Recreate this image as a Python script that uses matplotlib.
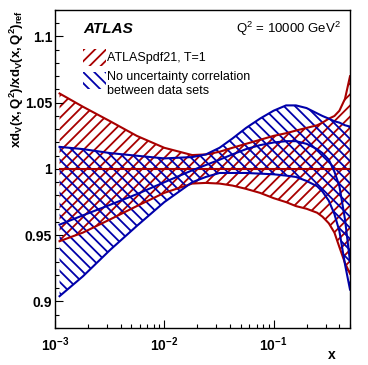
import matplotlib
matplotlib.use('Agg')
import matplotlib.pyplot as plt
from matplotlib.patches import Rectangle
from matplotlib.ticker import FixedLocator, LogLocator, NullFormatter

plt.rcParams['font.family'] = ['Liberation Sans', 'DejaVu Sans']
plt.rcParams['mathtext.fontset'] = 'custom'
plt.rcParams['mathtext.rm'] = 'Liberation Sans'
plt.rcParams['mathtext.bf'] = 'Liberation Sans:bold'
plt.rcParams['mathtext.it'] = 'Liberation Sans:italic'
plt.rcParams['hatch.linewidth'] = 1.3

# x grid and band edges
x = [0.0011, 0.0018, 0.0032, 0.0056, 0.01, 0.018, 0.024, 0.032, 0.042, 0.056, 0.075,
     0.1, 0.13, 0.16, 0.2, 0.25, 0.28, 0.32, 0.36, 0.4, 0.45, 0.5]

# ATLASpdf21, T=1 (reference, ratio = 1)
red_mid = [1.0] * 22
red_hi = [1.057, 1.047, 1.036, 1.025, 1.016, 1.0105, 1.011, 1.013, 1.016, 1.019, 1.022,
          1.025, 1.027, 1.029, 1.031, 1.033, 1.035, 1.038, 1.040, 1.044, 1.053, 1.070]
red_lo = [0.9455, 0.952, 0.962, 0.972, 0.982, 0.989, 0.9895, 0.989, 0.9875, 0.985, 0.982,
          0.978, 0.975, 0.972, 0.970, 0.967, 0.964, 0.959, 0.952, 0.941, 0.929, 0.921]

# no uncertainty correlation between data sets
blue_hi = [1.0167, 1.015, 1.012, 1.010, 1.008, 1.009, 1.011, 1.016, 1.023, 1.031, 1.038,
           1.044, 1.048, 1.048, 1.046, 1.042, 1.040, 1.038, 1.036, 1.035, 1.033, 1.032]
blue_mid = [0.958, 0.965, 0.973, 0.981, 0.990, 0.999, 1.003, 1.007, 1.011, 1.015, 1.018,
            1.020, 1.021, 1.021, 1.019, 1.015, 1.012, 1.007, 0.998, 0.987, 0.962, 0.930]
blue_lo = [0.904, 0.919, 0.939, 0.957, 0.975, 0.990, 0.994, 0.997, 0.997, 0.997, 0.9965,
           0.996, 0.995, 0.994, 0.991, 0.987, 0.983, 0.976, 0.966, 0.953, 0.928, 0.909]

xticks = [1e-3, 1e-2, 1e-1]
xticklabels = [r'$\mathbf{10^{-3}}$', r'$\mathbf{10^{-2}}$', r'$\mathbf{10^{-1}}$']
yticks = [0.9, 0.95, 1.0, 1.05, 1.1]
yticklabels = ['0.9', '0.95', '1', '1.05', '1.1']

RED = '#a80000'
BLUE = '#0000aa'
RED_HATCH = '///'
BLUE_HATCH = '\\\\\\'

fig = plt.figure(figsize=(3.68, 3.65), dpi=100)
ax = fig.add_axes([0.1495, 0.1014, 0.8016, 0.8712])

ax.fill_between(x, red_lo, red_hi, facecolor='none', edgecolor=RED, hatch=RED_HATCH, linewidth=0)
ax.fill_between(x, blue_lo, blue_hi, facecolor='none', edgecolor=BLUE, hatch=BLUE_HATCH, linewidth=0)
for arr in (red_hi, red_mid, red_lo):
    ax.plot(x, arr, color=RED, lw=1.5)
for arr in (blue_hi, blue_mid, blue_lo):
    ax.plot(x, arr, color=BLUE, lw=1.5)

ax.set_xscale('log')
ax.set_xlim(1e-3, 0.5)
ax.set_ylim(0.88, 1.12)

ax.set_xticks(xticks)
ax.set_xticklabels(xticklabels)
ax.xaxis.set_minor_locator(LogLocator(base=10, subs=range(2, 10)))
ax.xaxis.set_minor_formatter(NullFormatter())
ax.yaxis.set_major_locator(FixedLocator(yticks))
ax.set_yticklabels(yticklabels, fontweight='bold')
ax.yaxis.set_minor_locator(FixedLocator([0.88 + 0.01 * i for i in range(25)]))

ax.tick_params(which='both', direction='in', top=False, right=False, width=0.8, labelsize=10)
ax.tick_params(which='major', length=6)
ax.tick_params(which='minor', length=3)
ax.tick_params(axis='y', pad=2)
ax.tick_params(axis='x', pad=5)
for s in ax.spines.values():
    s.set_linewidth(1.0)

ax.set_xlabel('x', loc='right', fontsize=10, fontweight='bold')
ax.xaxis.set_label_coords(0.9525, -0.063)
ax.set_ylabel(r'$\mathbf{xd_{V}(x,Q^{2})/xd_{V}(x,Q^{2})_{ref}}$', loc='top', fontsize=9.5)
ax.yaxis.set_label_coords(-0.097, 1.0)

ax.text(0.0949, 0.94, 'ATLAS', transform=ax.transAxes, fontsize=11,
        fontweight='bold', fontstyle='italic', va='center', ha='left')
ax.text(0.9695, 0.94, r'Q$^{2}$ = 10000 GeV$^{2}$', transform=ax.transAxes,
        fontsize=9.5, va='center', ha='right')

# legend drawn by hand
ax.add_patch(Rectangle((0.0949, 0.824), 0.078, 0.0535, transform=ax.transAxes,
                       facecolor='none', edgecolor=RED, hatch=RED_HATCH, linewidth=0))
ax.add_patch(Rectangle((0.0949, 0.7516), 0.078, 0.0535, transform=ax.transAxes,
                       facecolor='none', edgecolor=BLUE, hatch=BLUE_HATCH, linewidth=0))
ax.text(0.1763, 0.849, 'ATLASpdf21, T=1', transform=ax.transAxes, fontsize=9, va='center')
ax.text(0.1763, 0.789, 'No uncertainty correlation', transform=ax.transAxes, fontsize=9, va='center')
ax.text(0.1763, 0.745, 'between data sets', transform=ax.transAxes, fontsize=9, va='center')

fig.savefig('out.png', dpi=100)
